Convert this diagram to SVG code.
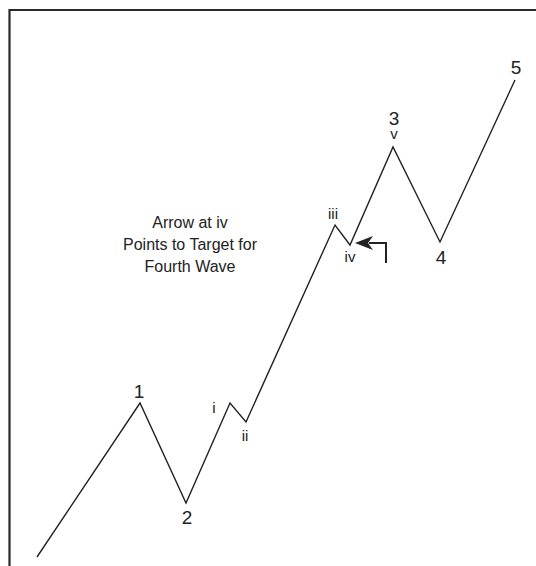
<svg xmlns="http://www.w3.org/2000/svg" width="536" height="566" viewBox="0 0 536 566">
<style>
.frame{fill:none;stroke:#2a2a2a;stroke-width:2.2}
.wave{fill:none;stroke:#222;stroke-width:1.4;stroke-linejoin:miter}
.num{font-family:"Liberation Sans",Arial,sans-serif;font-size:19px;fill:#222;text-anchor:middle}
.rom{font-family:"Liberation Sans",Arial,sans-serif;font-size:15px;fill:#222;text-anchor:middle}
.note{font-family:"Liberation Sans",Arial,sans-serif;font-size:16px;fill:#222;text-anchor:middle}
</style>
<rect width="536" height="566" fill="#fff"/>
<path class="frame" d="M9.5,566 V10 H536"/>
<g id="connectors">
<polyline class="wave" points="37,557 140,403 186,503 230,403 246,422 335,225 350,245 393,147 440,242 515,80"/>
<g id="arrow">
<polyline points="369,243 386,243 386,263" fill="none" stroke="#222" stroke-width="2"/>
<polygon points="355,243 373,236 368,243 373,250" fill="#222"/>
</g>
</g>
<g id="label-1"><text class="num" x="139" y="398">1</text></g>
<g id="label-2"><text class="num" x="187" y="524">2</text></g>
<g id="label-3"><text class="num" x="394" y="125">3</text></g>
<g id="label-4"><text class="num" x="441" y="264">4</text></g>
<g id="label-5"><text class="num" x="516" y="74">5</text></g>
<g id="label-i"><text class="rom" x="214" y="413">i</text></g>
<g id="label-ii"><text class="rom" x="245" y="441">ii</text></g>
<g id="label-iii"><text class="rom" x="333" y="219">iii</text></g>
<g id="label-iv"><text class="rom" x="350" y="262">iv</text></g>
<g id="label-v"><text class="rom" x="394" y="139">v</text></g>
<g id="note">
<text class="note" x="190" y="228">Arrow at iv</text>
<text class="note" x="190" y="250">Points to Target for</text>
<text class="note" x="190" y="272">Fourth Wave</text>
</g>
</svg>
